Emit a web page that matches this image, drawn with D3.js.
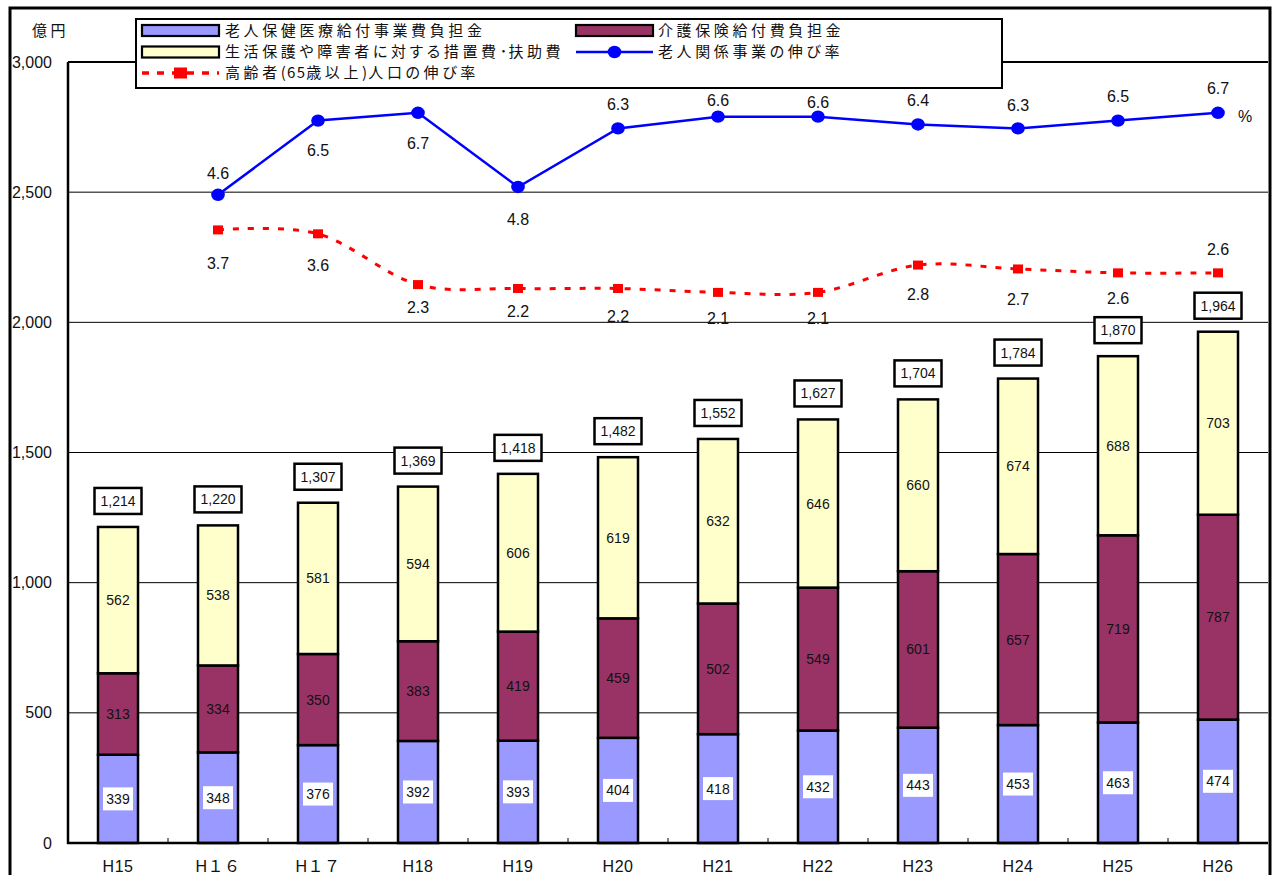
<!DOCTYPE html>
<html>
<head>
<meta charset="utf-8">
<script src="https://cdn.jsdelivr.net/npm/d3@7"></script>
<style>
  body { margin: 0; background: #fff; }
  svg { display: block; }
  .num { font-family: "Liberation Sans", Arial, "Noto Sans CJK JP", sans-serif; fill: #111; }
  .jp { font-family: "Noto Sans CJK JP", sans-serif; fill: #111; font-feature-settings: "palt"; }
</style>
</head>
<body>
<svg id="chart" width="1276" height="875"></svg>
<script>
// ---- data (億円, %) ----
const categories = ["H15", "H１６", "H１７", "H18", "H19", "H20", "H21", "H22", "H23", "H24", "H25", "H26"];
const healthCare = [339, 348, 376, 392, 393, 404, 418, 432, 443, 453, 463, 474];      // 老人保健医療給付事業費負担金
const careInsurance = [313, 334, 350, 383, 419, 459, 502, 549, 601, 657, 719, 787];   // 介護保険給付費負担金
const welfare = [562, 538, 581, 594, 606, 619, 632, 646, 660, 674, 688, 703];         // 生活保護や障害者に対する措置費・扶助費
const totals = [1214, 1220, 1307, 1369, 1418, 1482, 1552, 1627, 1704, 1784, 1870, 1964];
const projectGrowth = [null, 4.6, 6.5, 6.7, 4.8, 6.3, 6.6, 6.6, 6.4, 6.3, 6.5, 6.7];   // 老人関係事業の伸び率
const populationGrowth = [null, 3.7, 3.6, 2.3, 2.2, 2.2, 2.1, 2.1, 2.8, 2.7, 2.6, 2.6]; // 高齢者(65歳以上)人口の伸び率
const yTicks = [0, 500, 1000, 1500, 2000, 2500, 3000];
const seriesNames = ["老人保健医療給付事業費負担金", "介護保険給付費負担金", "生活保護や障害者に対する措置費･扶助費", "老人関係事業の伸び率", "高齢者(65歳以上)人口の伸び率"];
const unitLabel = "億円";
const pctLabel = "%";

// ---- layout ----
const plot = { left: 68, right: 1268, top: 62, bottom: 843 };
const colors = { health: "#9999FF", care: "#993366", welfare: "#FFFFCC", project: "#0000FF", population: "#FF0000" };

const svg = d3.select("#chart");

const x = d3.scaleBand().domain(categories).range([plot.left, plot.right]).paddingInner(0.6).paddingOuter(0.3);
const y = d3.scaleLinear().domain([0, 3000]).range([plot.bottom, plot.top]);
const yPct = d3.scaleLinear().domain([-12, 8]).range([plot.bottom, plot.top]);
const cx = c => x(c) + x.bandwidth() / 2;

// Japanese text: wide tracking on full-width glyphs, tight on half-width ones
function jpText(sel, str, size) {
  const t = sel.append("text").attr("class", "jp").attr("font-size", size);
  for (const ch of str) {
    const wide = ch.codePointAt(0) > 0x2E80 && ch !== "･";
    t.append("tspan").attr("letter-spacing", wide ? 3.6 : 1.2).text(ch);
  }
  return t;
}

// outer frame
svg.append("rect").attr("x", 10).attr("y", 8).attr("width", 1260).attr("height", 900)
  .attr("fill", "none").attr("stroke", "#000").attr("stroke-width", 3);

// gridlines
svg.append("g").selectAll("line").data(yTicks.filter(d => d > 0 && d < 3000)).join("line")
  .attr("x1", plot.left).attr("x2", plot.right)
  .attr("y1", d => y(d)).attr("y2", d => y(d))
  .attr("stroke", "#000").attr("stroke-width", 1);

// y axis labels
const yAxis = svg.append("g").attr("transform", `translate(${plot.left},0)`)
  .call(d3.axisLeft(y).tickValues(yTicks).tickSize(0).tickPadding(16).tickFormat(d3.format(",")));
yAxis.select(".domain").remove();
yAxis.selectAll("text").attr("class", "num").attr("font-size", 16).attr("fill", "#111");

// x axis labels
const xAxis = svg.append("g").attr("transform", `translate(0,${plot.bottom})`)
  .call(d3.axisBottom(x).tickSize(0).tickPadding(18));
xAxis.select(".domain").remove();
xAxis.selectAll("text").attr("class", "num").attr("font-size", 16).attr("fill", "#111")
  .attr("letter-spacing", 0.5);

// small category separators on the x axis
svg.append("g").selectAll("line").data(d3.range(1, categories.length)).join("line")
  .attr("x1", i => plot.left + i * x.step()).attr("x2", i => plot.left + i * x.step())
  .attr("y1", plot.bottom).attr("y2", plot.bottom - 5)
  .attr("stroke", "#000").attr("stroke-width", 1);

// stacked bars
const rows = categories.map((c, i) => ({ cat: c, health: healthCare[i], care: careInsurance[i], welfare: welfare[i] }));
const keys = ["health", "care", "welfare"];
const stacked = d3.stack().keys(keys)(rows);

const barG = svg.append("g");
stacked.forEach(layer => {
  barG.append("g").selectAll("rect").data(layer).join("rect")
    .attr("x", d => x(d.data.cat))
    .attr("width", x.bandwidth())
    .attr("y", d => y(d[1]))
    .attr("height", d => y(d[0]) - y(d[1]))
    .attr("fill", colors[layer.key])
    .attr("stroke", "#000").attr("stroke-width", 2.5);
});

// segment value labels
stacked.forEach(layer => {
  const g = svg.append("g");
  layer.forEach(d => {
    const px = cx(d.data.cat);
    const py = (y(d[0]) + y(d[1])) / 2;
    const v = d.data[layer.key];
    if (layer.key === "health") {
      g.append("rect").attr("x", px - 15).attr("y", py - 11.5).attr("width", 30).attr("height", 23).attr("fill", "#fff");
    }
    g.append("text").attr("class", "num").attr("font-size", 14)
      .attr("x", px).attr("y", py).attr("dy", "0.36em").attr("text-anchor", "middle")
      .text(d3.format(",")(v));
  });
});

// total labels in boxed frames
const totG = svg.append("g");
categories.forEach((c, i) => {
  const px = cx(c), py = y(totals[i]) - 26;
  totG.append("rect").attr("x", px - 23.5).attr("y", py - 13).attr("width", 47).attr("height", 26)
    .attr("fill", "#fff").attr("stroke", "#000").attr("stroke-width", 2.5);
  totG.append("text").attr("class", "num").attr("font-size", 14)
    .attr("x", px).attr("y", py).attr("dy", "0.36em").attr("text-anchor", "middle")
    .text(d3.format(",")(totals[i]));
});

// growth-rate lines
const projPts = categories.map((c, i) => ({ c, v: projectGrowth[i] })).filter(d => d.v != null);
const popPts = categories.map((c, i) => ({ c, v: populationGrowth[i] })).filter(d => d.v != null);

svg.append("path").datum(popPts)
  .attr("d", d3.line().x(d => cx(d.c)).y(d => yPct(d.v)).curve(d3.curveCardinal.tension(0)))
  .attr("fill", "none").attr("stroke", colors.population).attr("stroke-width", 3)
  .attr("stroke-dasharray", "6,9");
svg.append("g").selectAll("rect").data(popPts).join("rect")
  .attr("x", d => cx(d.c) - 5).attr("y", d => yPct(d.v) - 4.5)
  .attr("width", 10).attr("height", 9).attr("fill", colors.population);

svg.append("path").datum(projPts)
  .attr("d", d3.line().x(d => cx(d.c)).y(d => yPct(d.v)))
  .attr("fill", "none").attr("stroke", colors.project).attr("stroke-width", 2.5);
svg.append("g").selectAll("ellipse").data(projPts).join("ellipse")
  .attr("cx", d => cx(d.c)).attr("cy", d => yPct(d.v))
  .attr("rx", 6.8).attr("ry", 6.2).attr("fill", colors.project);

// line value labels (vertical offset from the marker)
const projLabelDy = [null, -22, 30, 30, 32, -24, -16, -14, -24, -23, -24, -25];
const popLabelDy = [null, 33, 31, 23, 23, 28, 26, 26, 29, 30, 25, -24];
const lblG = svg.append("g");
categories.forEach((c, i) => {
  if (projectGrowth[i] != null) {
    lblG.append("text").attr("class", "num").attr("font-size", 16)
      .attr("x", cx(c)).attr("y", yPct(projectGrowth[i]) + projLabelDy[i]).attr("dy", "0.36em")
      .attr("text-anchor", "middle").text(d3.format(".1f")(projectGrowth[i]));
  }
  if (populationGrowth[i] != null) {
    lblG.append("text").attr("class", "num").attr("font-size", 16)
      .attr("x", cx(c)).attr("y", yPct(populationGrowth[i]) + popLabelDy[i]).attr("dy", "0.36em")
      .attr("text-anchor", "middle").text(d3.format(".1f")(populationGrowth[i]));
  }
});

// percent unit
svg.append("text").attr("class", "num").attr("font-size", 16)
  .attr("x", 1245).attr("y", 116).attr("dy", "0.36em").attr("text-anchor", "middle").text(pctLabel);

// plot frame: top border, left and bottom axes
svg.append("line").attr("x1", plot.left).attr("x2", plot.right).attr("y1", plot.top).attr("y2", plot.top)
  .attr("stroke", "#000").attr("stroke-width", 2);
svg.append("line").attr("x1", plot.left).attr("x2", plot.left).attr("y1", plot.top).attr("y2", plot.bottom + 1)
  .attr("stroke", "#000").attr("stroke-width", 2.5);
svg.append("line").attr("x1", plot.left - 1).attr("x2", plot.right).attr("y1", plot.bottom).attr("y2", plot.bottom)
  .attr("stroke", "#000").attr("stroke-width", 2.5);

// unit label
jpText(svg, unitLabel, 15).attr("x", 32).attr("y", 31).attr("dy", "0.36em");

// legend
const lg = svg.append("g");
lg.append("rect").attr("x", 136).attr("y", 19).attr("width", 866).attr("height", 69)
  .attr("fill", "#fff").attr("stroke", "#000").attr("stroke-width", 2);

const legendItems = [
  { name: seriesNames[0], type: "box", color: colors.health, sx: 142, tx: 225, y: 30.5 },
  { name: seriesNames[1], type: "box", color: colors.care, sx: 576, tx: 658, y: 30.5 },
  { name: seriesNames[2], type: "box", color: colors.welfare, sx: 142, tx: 225, y: 52 },
  { name: seriesNames[3], type: "circle", color: colors.project, sx: 576, tx: 658, y: 52 },
  { name: seriesNames[4], type: "square", color: colors.population, sx: 142, tx: 225, y: 73 }
];
legendItems.forEach(it => {
  if (it.type === "box") {
    lg.append("rect").attr("x", it.sx).attr("y", it.y - 5.5).attr("width", 77).attr("height", 11)
      .attr("fill", it.color).attr("stroke", "#000").attr("stroke-width", 2.2);
  } else if (it.type === "circle") {
    lg.append("line").attr("x1", it.sx).attr("x2", it.sx + 77).attr("y1", it.y).attr("y2", it.y)
      .attr("stroke", it.color).attr("stroke-width", 2.5);
    lg.append("ellipse").attr("cx", it.sx + 38.5).attr("cy", it.y).attr("rx", 6.8).attr("ry", 6.2).attr("fill", it.color);
  } else {
    lg.append("line").attr("x1", it.sx).attr("x2", it.sx + 77).attr("y1", it.y).attr("y2", it.y)
      .attr("stroke", it.color).attr("stroke-width", 3.5).attr("stroke-dasharray", "7,8");
    lg.append("rect").attr("x", it.sx + 32).attr("y", it.y - 5.5).attr("width", 13).attr("height", 11).attr("fill", it.color);
  }
  jpText(lg, it.name, 15).attr("x", it.tx).attr("y", it.y).attr("dy", "0.36em");
});
</script>
</body>
</html>
